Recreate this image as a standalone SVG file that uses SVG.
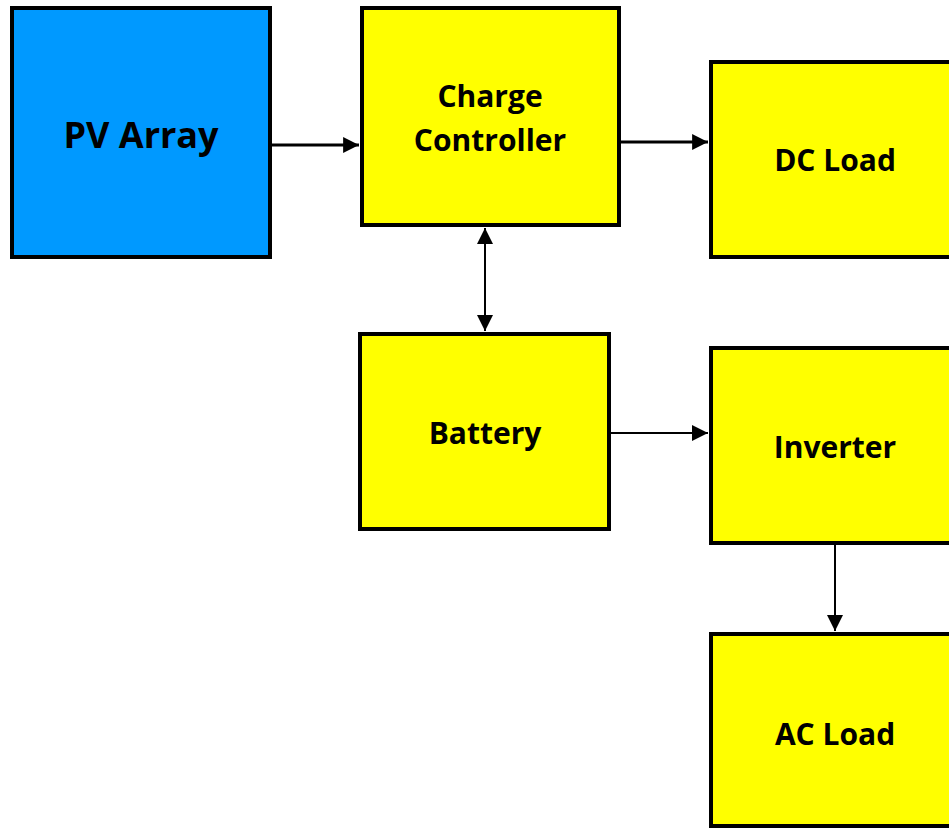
<svg xmlns="http://www.w3.org/2000/svg" width="949" height="829" viewBox="0 0 949 829">
<style>
.box{stroke:#000;stroke-width:4;}
.y{fill:#FFFF00;}
.b{fill:#0099FF;}
.t{font-family:"Open Sans","Liberation Sans",sans-serif;font-weight:bold;font-size:30px;fill:#000;text-anchor:middle;}
.big{font-size:36px;}
.c{stroke:#000;fill:none;}
</style>
<defs>
<marker id="ah" viewBox="0 0 10 10" refX="10" refY="5" markerWidth="5.3" markerHeight="5.3" markerUnits="strokeWidth" orient="auto-start-reverse">
<path d="M0,0 L10,5 L0,10 z" fill="#000"/>
</marker>
<marker id="ah2" viewBox="0 0 10 10" refX="10" refY="5" markerWidth="8" markerHeight="8.5" markerUnits="strokeWidth" orient="auto-start-reverse">
<path d="M0,0 L10,5 L0,10 z" fill="#000"/>
</marker>
</defs>
<rect width="949" height="829" fill="#fff"/>
<g id="connectors">
<line class="c" x1="272" y1="145" x2="359" y2="145" stroke-width="3" marker-end="url(#ah)"/>
<line class="c" x1="621" y1="142" x2="708" y2="142" stroke-width="3" marker-end="url(#ah)"/>
<line class="c" x1="485" y1="228" x2="485" y2="331" stroke-width="2" marker-start="url(#ah2)" marker-end="url(#ah2)"/>
<line class="c" x1="611" y1="433" x2="708" y2="433" stroke-width="2" marker-end="url(#ah2)"/>
<line class="c" x1="835" y1="545" x2="835" y2="631" stroke-width="2" marker-end="url(#ah2)"/>
</g>
<g id="pv-array">
<rect class="box b" x="12" y="8" width="258" height="249"/>
<text class="t big" x="141" y="148">PV Array</text>
</g>
<g id="charge-controller">
<rect class="box y" x="362" y="8" width="257" height="217"/>
<text class="t" x="490" y="107">Charge</text>
<text class="t" x="490" y="151">Controller</text>
</g>
<g id="dc-load">
<rect class="box y" x="711" y="62" width="250" height="195"/>
<text class="t" x="835" y="171">DC Load</text>
</g>
<g id="battery">
<rect class="box y" x="360" y="334" width="249" height="195"/>
<text class="t" x="485" y="444">Battery</text>
</g>
<g id="inverter">
<rect class="box y" x="711" y="348" width="250" height="195"/>
<text class="t" x="835" y="458">Inverter</text>
</g>
<g id="ac-load">
<rect class="box y" x="711" y="634" width="250" height="192"/>
<text class="t" x="835" y="745">AC Load</text>
</g>
</svg>
